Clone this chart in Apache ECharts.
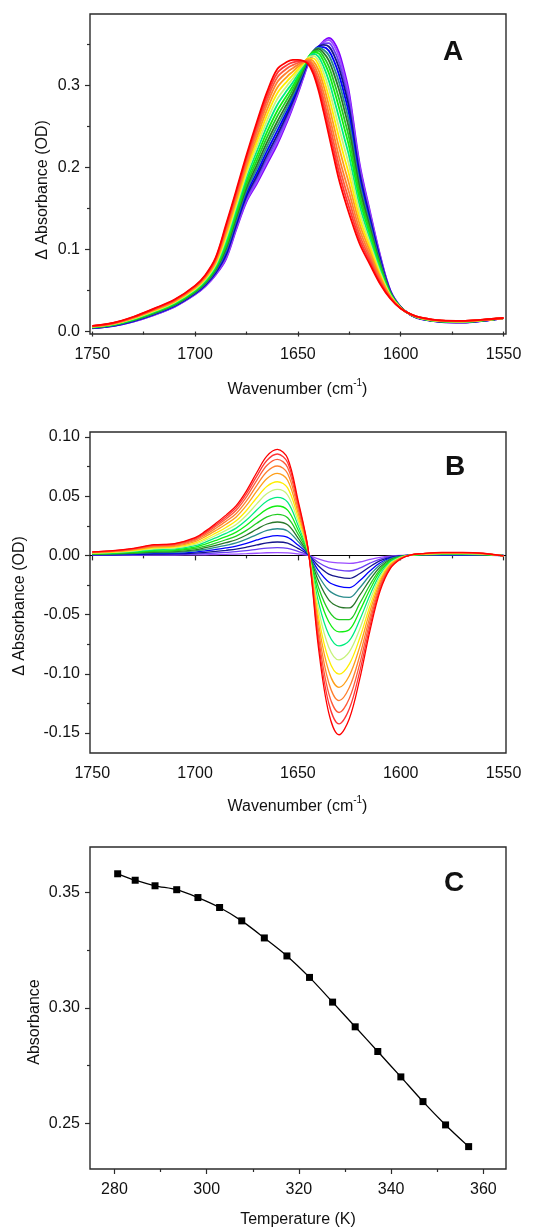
<!DOCTYPE html>
<html><head><meta charset="utf-8">
<script src="https://cdn.jsdelivr.net/npm/echarts@6/dist/echarts.min.js"></script>
<style>html,body{margin:0;padding:0;background:#fff}#c{width:551px;height:1231px}</style>
</head><body><div id="c"></div>
<script>
// ---------- Panel C: absorbance at the band maximum vs temperature ----------
const temperatures = [280.7, 284.5, 288.8, 293.5, 298.1, 302.8, 307.6, 312.5, 317.4, 322.3, 327.3, 332.2, 337.1, 342.1, 346.9, 351.8, 356.8];
const peakAbsorbance = [0.3581, 0.3553, 0.3529, 0.3512, 0.3478, 0.3435, 0.3377, 0.3303, 0.3225, 0.3132, 0.3025, 0.2918, 0.2811, 0.2701, 0.2594, 0.2493, 0.2399];

// ---------- Panel A: absorbance spectra (one row per wavenumber, one column per temperature) ----------
const wavenumbersA = [1750,1740,1730,1720,1710,1700,1695,1690,1685,1680,1675,1670,1665,1660,1655,1652.5,1650,1647.5,1645,1642.5,1640,1637.5,1635,1632.5,1630,1627.5,1625,1620,1615,1610,1605,1600,1595,1590,1580,1570,1560,1550];
const absorbanceRows = [
[.0040,.0041,.0042,.0044,.0045,.0047,.0049,.0051,.0053,.0056,.0058,.0060,.0063,.0065,.0067,.0068,.0070],
[.0065,.0066,.0068,.0070,.0072,.0075,.0077,.0080,.0083,.0086,.0089,.0092,.0095,.0098,.0101,.0103,.0105],
[.0120,.0122,.0125,.0128,.0131,.0135,.0138,.0143,.0147,.0152,.0156,.0161,.0165,.0170,.0173,.0177,.0180],
[.0200,.0203,.0206,.0210,.0215,.0219,.0224,.0230,.0236,.0242,.0248,.0254,.0260,.0266,.0271,.0276,.0280],
[.0300,.0303,.0307,.0311,.0316,.0322,.0327,.0334,.0340,.0347,.0354,.0361,.0368,.0374,.0380,.0385,.0390],
[.0450,.0454,.0459,.0464,.0470,.0477,.0483,.0491,.0499,.0508,.0516,.0525,.0533,.0541,.0548,.0554,.0560],
[.0550,.0555,.0561,.0568,.0576,.0584,.0593,.0603,.0613,.0624,.0634,.0645,.0656,.0666,.0675,.0683,.0690],
[.0690,.0697,.0707,.0717,.0728,.0741,.0754,.0769,.0784,.0800,.0817,.0833,.0849,.0864,.0877,.0889,.0900],
[.0880,.0895,.0914,.0933,.0957,.0982,.1008,.1038,.1068,.1101,.1133,.1165,.1197,.1227,.1254,.1278,.1300],
[.1240,.1257,.1278,.1301,.1328,.1357,.1386,.1420,.1455,.1492,.1529,.1566,.1602,.1637,.1668,.1695,.1720],
[.1580,.1600,.1626,.1652,.1684,.1719,.1753,.1794,.1835,.1880,.1924,.1967,.2010,.2051,.2088,.2120,.2150],
[.1800,.1826,.1860,.1895,.1937,.1982,.2028,.2081,.2135,.2195,.2252,.2309,.2366,.2420,.2468,.2511,.2550],
[.2040,.2071,.2110,.2152,.2201,.2254,.2308,.2370,.2433,.2503,.2571,.2638,.2704,.2768,.2824,.2874,.2920],
[.2280,.2312,.2354,.2397,.2448,.2504,.2560,.2625,.2691,.2764,.2835,.2905,.2975,.3041,.3100,.3152,.3200],
[.2570,.2595,.2628,.2661,.2702,.2745,.2789,.2840,.2892,.2949,.3004,.3059,.3114,.3165,.3212,.3253,.3290],
[.2730,.2750,.2776,.2804,.2836,.2871,.2906,.2948,.2989,.3035,.3080,.3124,.3168,.3210,.3247,.3280,.3310],
[.2900,.2917,.2939,.2961,.2987,.3015,.3042,.3073,.3103,.3136,.3166,.3195,.3225,.3250,.3273,.3293,.3310],
[.3080,.3093,.3110,.3126,.3144,.3162,.3181,.3201,.3218,.3236,.3251,.3264,.3276,.3285,.3292,.3297,.3300],
[.3260,.3271,.3284,.3295,.3308,.3319,.3328,.3335,.3339,.3340,.3337,.3330,.3319,.3306,.3291,.3276,.3260],
[.3380,.3390,.3399,.3408,.3414,.3418,.3417,.3412,.3402,.3384,.3360,.3330,.3295,.3256,.3216,.3178,.3140],
[.3470,.3473,.3475,.3474,.3469,.3459,.3444,.3421,.3391,.3351,.3303,.3250,.3188,.3124,.3060,.3000,.2940],
[.3540,.3529,.3512,.3493,.3467,.3434,.3397,.3348,.3294,.3228,.3155,.3078,.2995,.2909,.2828,.2753,.2680],
[.3580,.3553,.3515,.3474,.3424,.3367,.3306,.3231,.3152,.3059,.2964,.2866,.2763,.2661,.2568,.2481,.2400],
[.3530,.3488,.3432,.3373,.3302,.3224,.3143,.3048,.2949,.2838,.2728,.2617,.2502,.2393,.2293,.2203,.2120],
[.3400,.3349,.3282,.3212,.3128,.3038,.2946,.2838,.2727,.2605,.2484,.2365,.2245,.2129,.2027,.1935,.1850],
[.3180,.3126,.3056,.2983,.2896,.2803,.2709,.2599,.2487,.2365,.2245,.2128,.2010,.1898,.1799,.1711,.1630],
[.2900,.2849,.2782,.2713,.2631,.2543,.2453,.2349,.2243,.2127,.2014,.1902,.1790,.1684,.1590,.1506,.1430],
[.2050,.2016,.1972,.1926,.1871,.1812,.1752,.1682,.1612,.1535,.1459,.1385,.1310,.1240,.1177,.1121,.1070],
[.1470,.1447,.1418,.1387,.1351,.1312,.1272,.1226,.1179,.1128,.1078,.1029,.0979,.0932,.0891,.0854,.0820],
[.0930,.0918,.0902,.0886,.0866,.0845,.0824,.0799,.0774,.0746,.0719,.0692,.0666,.0641,.0618,.0598,.0580],
[.0500,.0496,.0492,.0487,.0482,.0476,.0470,.0462,.0455,.0447,.0440,.0432,.0424,.0417,.0411,.0405,.0400],
[.0300,.0299,.0298,.0297,.0296,.0295,.0294,.0292,.0291,.0289,.0288,.0286,.0285,.0283,.0282,.0281,.0280],
[.0200,.0200,.0201,.0201,.0202,.0202,.0203,.0204,.0204,.0205,.0206,.0207,.0208,.0208,.0209,.0209,.0210],
[.0150,.0151,.0152,.0153,.0154,.0155,.0156,.0158,.0159,.0161,.0162,.0164,.0165,.0167,.0168,.0169,.0170],
[.0115,.0116,.0117,.0118,.0119,.0120,.0121,.0123,.0124,.0126,.0127,.0129,.0130,.0132,.0133,.0134,.0135],
[.0110,.0111,.0112,.0113,.0114,.0115,.0116,.0118,.0119,.0121,.0122,.0124,.0125,.0127,.0128,.0129,.0130],
[.0130,.0131,.0131,.0132,.0133,.0134,.0135,.0136,.0137,.0138,.0139,.0140,.0141,.0142,.0143,.0144,.0145],
[.0165,.0165,.0165,.0165,.0165,.0165,.0165,.0165,.0165,.0165,.0165,.0165,.0165,.0165,.0165,.0165,.0165]
];

// ---------- Panel B: difference spectra vs the lowest temperature (temperatures 2..17) ----------
const wavenumbersB = [1750,1740,1730,1720,1710,1700,1695,1690,1685,1680,1675,1670,1665,1660,1655,1650,1645,1640,1635,1630,1625,1620,1615,1610,1605,1600,1595,1590,1580,1570,1560,1550];
const differenceRows = [
[0.0001,0.0002,0.0004,0.0006,0.0008,0.0009,0.0012,0.0014,0.0016,0.0019,0.0021,0.0023,0.0025,0.0027,0.0029,0.0030],
[0.0001,0.0003,0.0005,0.0007,0.0010,0.0013,0.0015,0.0019,0.0022,0.0025,0.0028,0.0031,0.0034,0.0036,0.0038,0.0040],
[0.0002,0.0004,0.0008,0.0011,0.0015,0.0019,0.0023,0.0028,0.0033,0.0037,0.0042,0.0046,0.0051,0.0054,0.0057,0.0060],
[0.0002,0.0007,0.0011,0.0017,0.0023,0.0028,0.0035,0.0042,0.0049,0.0056,0.0063,0.0070,0.0076,0.0082,0.0086,0.0090],
[0.0003,0.0007,0.0013,0.0019,0.0025,0.0032,0.0039,0.0047,0.0055,0.0062,0.0070,0.0077,0.0084,0.0091,0.0096,0.0100],
[0.0004,0.0011,0.0019,0.0028,0.0038,0.0047,0.0058,0.0070,0.0082,0.0093,0.0104,0.0116,0.0127,0.0136,0.0143,0.0150],
[0.0005,0.0015,0.0026,0.0038,0.0051,0.0065,0.0079,0.0096,0.0112,0.0128,0.0142,0.0159,0.0173,0.0186,0.0196,0.0205],
[0.0007,0.0020,0.0034,0.0050,0.0068,0.0085,0.0104,0.0126,0.0148,0.0168,0.0188,0.0209,0.0228,0.0245,0.0258,0.0270],
[0.0009,0.0025,0.0043,0.0063,0.0085,0.0107,0.0132,0.0158,0.0186,0.0211,0.0236,0.0263,0.0287,0.0308,0.0325,0.0340],
[0.0011,0.0031,0.0053,0.0078,0.0105,0.0132,0.0163,0.0196,0.0230,0.0261,0.0292,0.0325,0.0354,0.0381,0.0402,0.0420],
[0.0014,0.0040,0.0069,0.0101,0.0137,0.0172,0.0211,0.0254,0.0298,0.0339,0.0379,0.0422,0.0460,0.0494,0.0521,0.0545],
[0.0018,0.0051,0.0088,0.0130,0.0176,0.0221,0.0271,0.0326,0.0383,0.0435,0.0487,0.0542,0.0591,0.0634,0.0669,0.0700],
[0.0022,0.0061,0.0106,0.0155,0.0211,0.0265,0.0325,0.0391,0.0459,0.0522,0.0584,0.0650,0.0709,0.0761,0.0803,0.0840],
[0.0023,0.0065,0.0113,0.0166,0.0225,0.0282,0.0346,0.0417,0.0490,0.0557,0.0622,0.0693,0.0755,0.0811,0.0856,0.0895],
[0.0021,0.0060,0.0103,0.0152,0.0206,0.0258,0.0317,0.0382,0.0449,0.0510,0.0570,0.0635,0.0692,0.0743,0.0784,0.0820],
[0.0012,0.0034,0.0059,0.0087,0.0118,0.0148,0.0182,0.0219,0.0257,0.0292,0.0327,0.0364,0.0397,0.0426,0.0449,0.0470],
[0.0001,0.0004,0.0006,0.0009,0.0013,0.0016,0.0019,0.0023,0.0027,0.0031,0.0035,0.0039,0.0042,0.0045,0.0048,0.0050],
[-0.0030,-0.0060,-0.0090,-0.0128,-0.0170,-0.0215,-0.0270,-0.0325,-0.0394,-0.0455,-0.0516,-0.0573,-0.0631,-0.0683,-0.0732,-0.0780],
[-0.0054,-0.0106,-0.0158,-0.0225,-0.0295,-0.0375,-0.0468,-0.0560,-0.0668,-0.0775,-0.0880,-0.0978,-0.1076,-0.1165,-0.1249,-0.1330],
[-0.0064,-0.0124,-0.0184,-0.0262,-0.0344,-0.0434,-0.0542,-0.0646,-0.0765,-0.0883,-0.1003,-0.1114,-0.1226,-0.1327,-0.1423,-0.1515],
[-0.0068,-0.0132,-0.0194,-0.0273,-0.0355,-0.0444,-0.0542,-0.0628,-0.0720,-0.0815,-0.0918,-0.1016,-0.1116,-0.1209,-0.1296,-0.1380],
[-0.0056,-0.0108,-0.0155,-0.0215,-0.0275,-0.0338,-0.0408,-0.0472,-0.0548,-0.0625,-0.0702,-0.0777,-0.0852,-0.0920,-0.0986,-0.1050],
[-0.0034,-0.0066,-0.0096,-0.0132,-0.0168,-0.0206,-0.0250,-0.0290,-0.0336,-0.0382,-0.0430,-0.0474,-0.0520,-0.0561,-0.0601,-0.0640],
[-0.0016,-0.0031,-0.0045,-0.0062,-0.0080,-0.0098,-0.0118,-0.0136,-0.0158,-0.0179,-0.0201,-0.0222,-0.0243,-0.0263,-0.0282,-0.0300],
[-0.0006,-0.0011,-0.0016,-0.0022,-0.0028,-0.0035,-0.0042,-0.0049,-0.0057,-0.0065,-0.0073,-0.0081,-0.0089,-0.0096,-0.0103,-0.0110],
[-0.0001,-0.0003,-0.0004,-0.0005,-0.0007,-0.0009,-0.0011,-0.0013,-0.0015,-0.0017,-0.0020,-0.0022,-0.0024,-0.0026,-0.0028,-0.0030],
[0.0000,0.0000,0.0001,0.0001,0.0001,0.0002,0.0002,0.0002,0.0003,0.0003,0.0003,0.0004,0.0004,0.0005,0.0005,0.0005],
[0.0000,0.0001,0.0002,0.0003,0.0004,0.0005,0.0006,0.0007,0.0008,0.0009,0.0010,0.0012,0.0013,0.0014,0.0014,0.0015],
[0.0001,0.0002,0.0003,0.0005,0.0006,0.0008,0.0010,0.0012,0.0014,0.0016,0.0017,0.0019,0.0021,0.0023,0.0024,0.0025],
[0.0001,0.0002,0.0003,0.0005,0.0006,0.0008,0.0010,0.0012,0.0014,0.0016,0.0017,0.0019,0.0021,0.0023,0.0024,0.0025],
[0.0000,0.0001,0.0002,0.0003,0.0005,0.0006,0.0007,0.0008,0.0010,0.0011,0.0013,0.0014,0.0015,0.0016,0.0017,0.0018],
[0.0000,0.0000,-0.0001,-0.0001,-0.0001,-0.0002,-0.0002,-0.0002,-0.0003,-0.0003,-0.0003,-0.0004,-0.0004,-0.0005,-0.0005,-0.0005]
];

// ---------- tick values ----------
const wavenumberTicks = [1750, 1700, 1650, 1600, 1550];
const wavenumberMinorTicks = [1725, 1675, 1625, 1575];
const absTicksA = [0, 0.1, 0.2, 0.3];
const absMinorA = [0.05, 0.15, 0.25, 0.35];
const diffTicks = [-0.15, -0.10, -0.05, 0, 0.05, 0.10];
const diffMinor = [-0.125, -0.075, -0.025, 0.025, 0.075];
const tempTicks = [280, 300, 320, 340, 360];
const tempMinor = [290, 310, 330, 350];
const absTicksC = [0.25, 0.30, 0.35];
const absMinorC = [0.275, 0.325];

// ---------- styles ----------
const spectrumColors = ['#8000FF','#9B4DFF','#6A3DF5','#14148C','#0000FF','#2A8C8C','#2A782A','#22CC22','#11EE11','#00EE80','#C6F27A','#FFEE00','#FF9F1A','#FF8030','#FF5A3A','#FF3535','#FF0000'];
const FONT = '"Liberation Sans", Arial, sans-serif';
const INK = '#111';
const FRAME = '#2b2b2b';

const chart = echarts.init(document.getElementById('c'), null, {renderer: 'canvas'});

function makeAxes(gridIndex, range, major, minor, fmt, inverse, margin) {
  const base = {
    type: 'value', gridIndex, min: range[0], max: range[1], inverse: !!inverse,
    splitLine: {show: false}, axisLine: {show: false}, scale: true
  };
  return [
    Object.assign({}, base, {
      axisTick: {show: true, inside: false, length: 5, customValues: major, lineStyle: {color: FRAME, width: 1.2}},
      axisLabel: {show: true, customValues: major, formatter: fmt, margin, color: INK, fontSize: 16, fontFamily: FONT, hideOverlap: false}
    }),
    Object.assign({}, base, {
      axisTick: {show: true, inside: false, length: 3, customValues: minor, lineStyle: {color: FRAME, width: 1.2}},
      axisLabel: {show: false}
    })
  ];
}

const xAxes = [], yAxes = [];
function addPanel(gi, xr, xMaj, xMin, xFmt, xInv, yr, yMaj, yMin, yFmt) {
  makeAxes(gi, xr, xMaj, xMin, xFmt, xInv, 13).forEach(a => { a.position = 'bottom'; xAxes.push(a); });
  makeAxes(gi, yr, yMaj, yMin, yFmt, false, 10).forEach(a => { a.position = 'left'; yAxes.push(a); });
}
addPanel(0, [1548.8, 1751.1], wavenumberTicks, wavenumberMinorTicks, v => String(Math.round(v)), true,
         [-0.003, 0.387], absTicksA, absMinorA, v => v.toFixed(1));
addPanel(1, [1548.8, 1751.1], wavenumberTicks, wavenumberMinorTicks, v => String(Math.round(v)), true,
         [-0.1669, 0.1042], diffTicks, diffMinor, v => v.toFixed(2));
addPanel(2, [274.7, 364.9], tempTicks, tempMinor, v => String(Math.round(v)), false,
         [0.2302, 0.3697], absTicksC, absMinorC, v => v.toFixed(2));

const series = [];
// Panel A
for (let t = 0; t < spectrumColors.length; t++) {
  series.push({
    type: 'line', xAxisIndex: 0, yAxisIndex: 0, showSymbol: false, smooth: 0.35, silent: true,
    data: wavenumbersA.map((w, k) => [w, absorbanceRows[k][t]]),
    lineStyle: {color: spectrumColors[t], width: 1.8}, z: 2 + t
  });
}
// Panel B (reference temperature = zero line)
for (let t = 0; t < differenceRows[0].length; t++) {
  const s = {
    type: 'line', xAxisIndex: 2, yAxisIndex: 2, showSymbol: false, smooth: 0.35, silent: true,
    data: wavenumbersB.map((w, k) => [w, differenceRows[k][t]]),
    lineStyle: {color: spectrumColors[t + 1], width: 1.3}, z: 3 + t
  };
  if (t === 0) {
    s.markLine = {silent: true, symbol: 'none', label: {show: false},
      lineStyle: {color: '#000', width: 1.2, type: 'solid'}, data: [{yAxis: 0}], z: 2};
  }
  series.push(s);
}
// Panel C
series.push({
  type: 'line', xAxisIndex: 4, yAxisIndex: 4, smooth: 0.3, silent: true,
  symbol: 'rect', symbolSize: 7, showSymbol: true,
  data: temperatures.map((t, k) => [t, peakAbsorbance[k]]),
  lineStyle: {color: '#000', width: 1.3}, itemStyle: {color: '#000'}
});

function txt(x, y, text, font, rot) {
  return {type: 'text', x, y, rotation: rot || 0, silent: true,
    style: {text, font, fill: INK, align: 'center', verticalAlign: 'middle'}};
}
function wnTitle(x, y) {
  return {type: 'text', x, y, silent: true,
    style: {text: '{a|Wavenumber (cm}{s|-1}{a|)}', fill: INK, align: 'center', verticalAlign: 'middle',
      rich: {a: {fontSize: 16, fontFamily: FONT, lineHeight: 20, fill: INK, verticalAlign: 'bottom'},
             s: {fontSize: 10, fontFamily: FONT, lineHeight: 20, fill: INK, verticalAlign: 'top'}}}};
}

chart.setOption({
  animation: false,
  backgroundColor: '#fff',
  grid: [
    {left: 90, top: 14, width: 416, height: 320, show: true, borderColor: FRAME, borderWidth: 1.4, containLabel: false},
    {left: 90, top: 432, width: 416, height: 321, show: true, borderColor: FRAME, borderWidth: 1.4, containLabel: false},
    {left: 90, top: 847, width: 416, height: 322, show: true, borderColor: FRAME, borderWidth: 1.4, containLabel: false}
  ],
  xAxis: xAxes,
  yAxis: yAxes,
  series,
  graphic: [
    txt(42.7, 190, 'Δ Absorbance (OD)', '16px ' + FONT, Math.PI / 2),
    txt(20, 606, 'Δ Absorbance (OD)', '16px ' + FONT, Math.PI / 2),
    txt(35, 1022, 'Absorbance', '16px ' + FONT, Math.PI / 2),
    wnTitle(297.5, 388),
    wnTitle(297.5, 805),
    txt(298, 1220, 'Temperature (K)', '16px ' + FONT),
    txt(453, 52, 'A', 'bold 28px ' + FONT),
    txt(455, 467, 'B', 'bold 28px ' + FONT),
    txt(454, 883, 'C', 'bold 28px ' + FONT)
  ]
});
</script>
</body></html>
